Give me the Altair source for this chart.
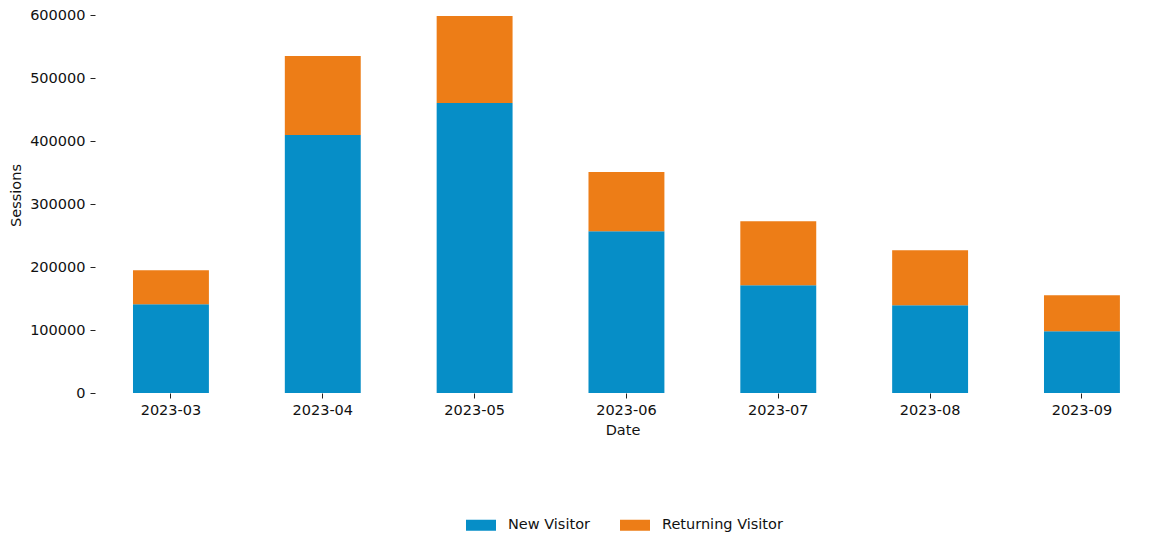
import altair as alt
import pandas as pd

dates = ["2023-03", "2023-04", "2023-05", "2023-06", "2023-07", "2023-08", "2023-09"]
new_visitor = [140900, 409400, 460200, 256900, 171100, 139300, 98000]
returning_visitor = [54000, 125500, 138200, 93700, 101700, 87400, 57200]
series = ["New Visitor", "Returning Visitor"]
colors = ["#068ec7", "#ed7d17"]
y_ticks = [0, 100000, 200000, 300000, 400000, 500000, 600000]

rows = []
for d, n, r in zip(dates, new_visitor, returning_visitor):
    rows.append({"Date": d, "Visitor": series[0], "Sessions": n, "ord": 0})
    rows.append({"Date": d, "Visitor": series[1], "Sessions": r, "ord": 1})
df = pd.DataFrame(rows)

FONT = "DejaVu Sans"
FS = 14.5

chart = alt.Chart(df).mark_bar().encode(
    x=alt.X("Date:N", sort=dates,
            scale=alt.Scale(paddingInner=0.5, paddingOuter=0.2242, align=0.558),
            axis=alt.Axis(title="Date", labelAngle=0, domain=False, grid=False,
                          tickSize=5, labelPadding=5, titlePadding=7,
                          tickColor="#222222")),
    y=alt.Y("Sessions:Q", stack="zero",
            scale=alt.Scale(domain=[0, 600000], nice=False),
            axis=alt.Axis(title="Sessions", values=y_ticks, format="d", domain=False,
                          grid=False, tickSize=5, labelPadding=5,
                          titleX=-75, titleY=180, titleAngle=-90,
                          titleAlign="center", titleBaseline="alphabetic",
                          tickColor="#222222")),
    color=alt.Color("Visitor:N", sort=series,
                    scale=alt.Scale(domain=series, range=colors),
                    legend=alt.Legend(title=None, orient="none", direction="horizontal",
                                      legendX=371, legendY=495, padding=0,
                                      symbolType="M-1,-0.367L1,-0.367L1,0.367L-1,0.367Z",
                                      symbolSize=900, symbolStrokeWidth=0,
                                      symbolOpacity=1,
                                      labelOffset=12, columnPadding=30)),
    order=alt.Order("ord:Q"),
).properties(
    width=1055,
    height=378,
    autosize=alt.AutoSizeParams(type="none"),
    padding={"left": 87, "top": 7, "right": 0, "bottom": 141},
).configure_view(
    stroke=None
).configure_axis(
    labelFont=FONT, titleFont=FONT, labelFontSize=FS, titleFontSize=FS,
    labelColor="#111111", titleColor="#111111", titleFontWeight="normal",
).configure_legend(
    labelFont=FONT, labelFontSize=FS, labelColor="#111111",
)

chart.save("out.html", embed_options={"renderer": "svg", "actions": False})
